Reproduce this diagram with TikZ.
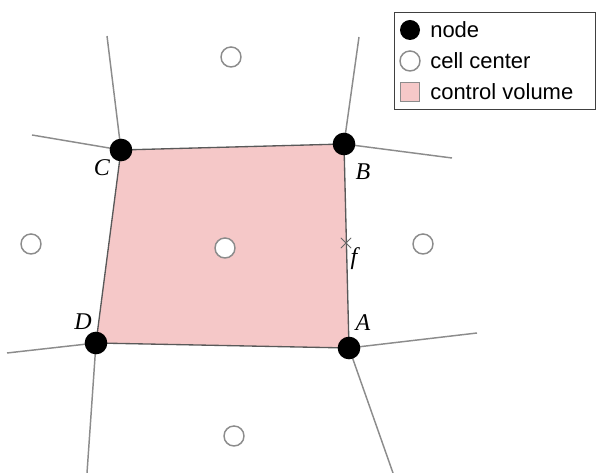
\documentclass[tikz,border=0pt]{standalone}
\usepackage{fontspec}
\setmainfont{Liberation Sans}
\newfontfamily\lblfont{Liberation Serif}
\usetikzlibrary{backgrounds,shapes.misc}
\definecolor{cvpink}{RGB}{245,200,200}
\definecolor{meshgray}{RGB}{140,140,140}
\begin{document}
\begin{tikzpicture}[x=0.75pt,y=-0.75pt]
    \tikzset{vertex/.style={circle, fill=black, inner sep=0pt, minimum size=17pt}}
    \tikzset{cellpt/.style={circle, draw=meshgray, fill=white, line width=1.1pt, inner sep=0pt, minimum size=15pt}}
    \tikzset{meshline/.style={draw=meshgray, line width=1.1pt}}
    \tikzset{lbl/.style={font=\lblfont\itshape\fontsize{18}{18}\selectfont}}
    \tikzset{legtext/.style={anchor=west, font=\fontsize{16.5}{16.5}\selectfont, inner sep=0pt}}

    \useasboundingbox (0,0) rectangle (597,473);

    % mesh nodes
    \node[vertex] (A) at (349,348) {};
    \node[vertex] (B) at (344,144) {};
    \node[vertex] (C) at (121,150) {};
    \node[vertex] (D) at (96,343) {};

    % cell centers
    \node[cellpt] (c1) at (231,57) {};
    \node[cellpt] (c2) at (31,244) {};
    \node[cellpt] (c3) at (225,248) {};
    \node[cellpt] (c4) at (423,244) {};
    \node[cellpt] (c5) at (234,436) {};

    % free ends of the mesh lines
    \coordinate (Cup) at (107,36);
    \coordinate (Cleft) at (32,135);
    \coordinate (Bup) at (359,37);
    \coordinate (Bright) at (452,158);
    \coordinate (Aright) at (477,333);
    \coordinate (Adown) at (393,473);
    \coordinate (Dleft) at (7,353);
    \coordinate (Ddown) at (87,473);

    \begin{scope}[on background layer]
        \fill[cvpink] (A.center) -- (B.center) -- (C.center) -- (D.center) -- cycle;
        \draw[meshline] (C.center) -- (Cup);
        \draw[meshline] (C.center) -- (Cleft);
        \draw[meshline] (B.center) -- (Bup);
        \draw[meshline] (B.center) -- (Bright);
        \draw[meshline] (A.center) -- (Aright);
        \draw[meshline] (A.center) -- (Adown);
        \draw[meshline] (D.center) -- (Dleft);
        \draw[meshline] (D.center) -- (Ddown);
        \draw[draw=black!65, line width=1pt] (A.center) -- (B.center) -- (C.center) -- (D.center) -- cycle;
    \end{scope}

    % face point
    \node[cross out, draw=black!60, line width=0.7pt, inner sep=0pt, minimum size=7pt] (f) at (346,243) {};

    % labels
    \node[lbl] (lC) at (102,168) {C};
    \node[lbl] (lB) at (363,172) {B};
    \node[lbl] (lD) at (83,322) {D};
    \node[lbl] (lA) at (363,323) {A};
    \node[lbl] (lf) at (354,259) {f};

    % legend
    \node[draw=black!75, line width=1.1pt, minimum width=151pt, minimum height=73pt, inner sep=0pt] (legend) at (495,61) {};
    \node[vertex, minimum size=15pt] (kA) at (410,30) {};
    \node[cellpt] (kB) at (410,61) {};
    \node[draw=meshgray, fill=cvpink, line width=1pt, inner sep=0pt, minimum size=14pt] (kC) at (410,92) {};
    \node[legtext] (tA) at (430,30) {node};
    \node[legtext] (tB) at (430,61) {cell center};
    \node[legtext] (tC) at (430,92) {control volume};
\end{tikzpicture}
\end{document}
